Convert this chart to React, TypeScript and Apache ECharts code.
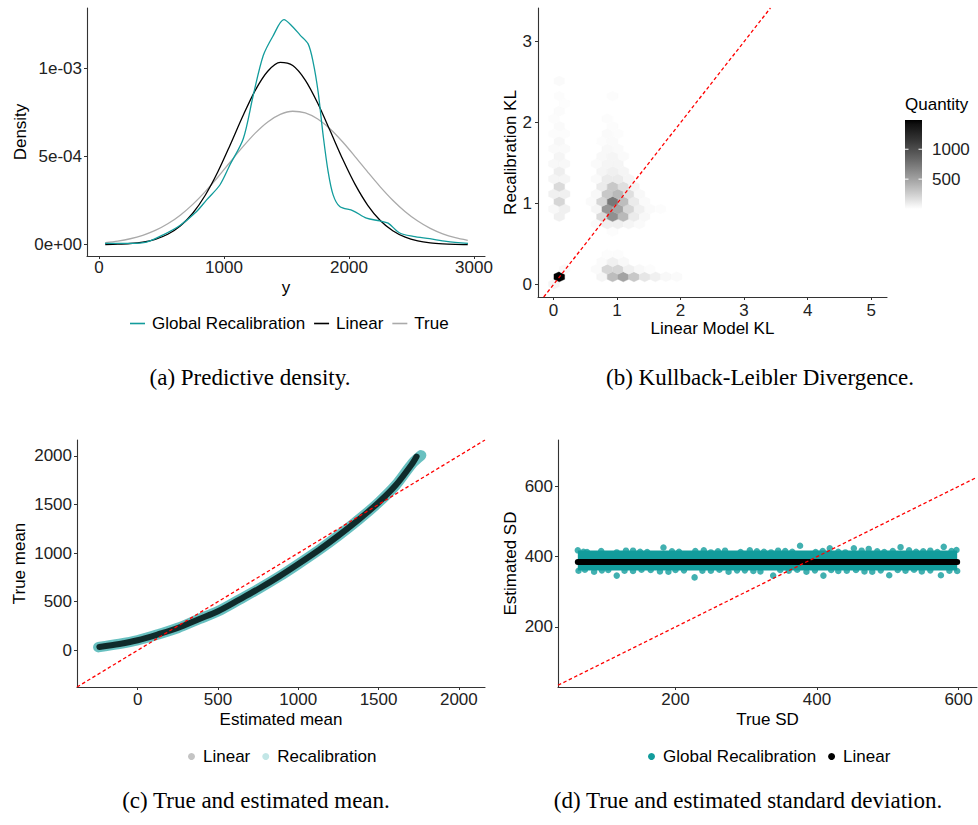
import React, { useEffect, useRef } from 'react';
import * as echarts from 'echarts';

// ---------- Panel (a): predictive density ----------
const densityGridX = [50, 150, 250, 350, 450, 550, 650, 750, 850, 950, 1050, 1150, 1250, 1350, 1450, 1550, 1650, 1750, 1850, 1950, 2050, 2150, 2250, 2350, 2450, 2550, 2650, 2750, 2850, 2950];
// densities in units of 1e-3
const densityTrue = [0.0122, 0.0206, 0.0337, 0.0531, 0.0806, 0.1183, 0.1673, 0.2284, 0.3007, 0.3818, 0.4683, 0.5534, 0.6315, 0.6948, 0.7376, 0.7556, 0.7467, 0.7119, 0.6548, 0.5811, 0.4975, 0.411, 0.3275, 0.2518, 0.1868, 0.1337, 0.0923, 0.0614, 0.0395, 0.0245];
const densityLinear = [0.0011, 0.0029, 0.0068, 0.0149, 0.0306, 0.0589, 0.1059, 0.1781, 0.2798, 0.4112, 0.5658, 0.7272, 0.874, 0.982, 1.032, 1.014, 0.9318, 0.8007, 0.6435, 0.4836, 0.3398, 0.2232, 0.1371, 0.0788, 0.0423, 0.0212, 0.01, 0.0044, 0.0018, 0.0007];
const recalX = [48, 248, 381, 514, 647, 781, 861, 967, 1047, 1154, 1234, 1314, 1394, 1479, 1553, 1607, 1673, 1713, 1753, 1793, 1833, 1873, 1926, 2033, 2140, 2246, 2313, 2406, 2513, 2646, 2779, 2952];
const recalDensity = [0.0075, 0.0075, 0.015, 0.056, 0.109, 0.188, 0.254, 0.338, 0.451, 0.6, 0.846, 1.071, 1.184, 1.274, 1.231, 1.188, 1.137, 1.034, 0.865, 0.62, 0.414, 0.282, 0.216, 0.192, 0.15, 0.135, 0.122, 0.066, 0.047, 0.034, 0.019, 0.0075];
const densityXTicks = [0, 1000, 2000, 3000];
const densityYTicks = [0, 5e-4, 1e-3];

// ---------- Panel (b): KL hexbin ----------
const hexCenterX = [
  0.006,
  0.09, 0.762, 0.93, 1.098, 1.266, 1.434, 1.602, 1.77, 1.938,
  0.174, 0.678, 0.846, 1.014, 1.182, 1.35, 1.518,
  0.762, 0.93, 1.098,
  0.846, 1.014,
  0.93,
  0.678, 0.846, 1.014, 1.182, 1.35,
  0.09, 0.762, 0.93, 1.098, 1.266, 1.434,
  0.006, 0.174, 0.678, 0.846, 1.014, 1.182, 1.35, 1.518, 1.686,
  0.09, 0.594, 0.762, 0.93, 1.098, 1.266, 1.434,
  0.006, 0.174, 0.678, 0.846, 1.014, 1.182, 1.35,
  0.09, 0.762, 0.93, 1.098, 1.266,
  0.006, 0.174, 0.678, 0.846, 1.014, 1.182,
  0.09, 0.762, 0.93, 1.098,
  0.006, 0.174, 0.678, 0.846, 1.014,
  0.09, 0.762, 0.93, 1.098,
  0.006, 0.174, 0.846, 1.014,
  0.09, 0.762, 0.93,
  0.006, 0.174, 0.846, 1.014,
  0.09, 0.93,
  0.006, 0.846,
  0.09,
  0.174,
  0.09, 0.93,
  0.09,
];
const hexCenterY = [
  0.002,
  0.095, 0.095, 0.095, 0.095, 0.095, 0.095, 0.095, 0.095, 0.095,
  0.188, 0.188, 0.188, 0.188, 0.188, 0.188, 0.188,
  0.281, 0.281, 0.281,
  0.374, 0.374,
  0.653,
  0.746, 0.746, 0.746, 0.746, 0.746,
  0.839, 0.839, 0.839, 0.839, 0.839, 0.839,
  0.932, 0.932, 0.932, 0.932, 0.932, 0.932, 0.932, 0.932, 0.932,
  1.025, 1.025, 1.025, 1.025, 1.025, 1.025, 1.025,
  1.118, 1.118, 1.118, 1.118, 1.118, 1.118, 1.118,
  1.211, 1.211, 1.211, 1.211, 1.211,
  1.304, 1.304, 1.304, 1.304, 1.304, 1.304,
  1.397, 1.397, 1.397, 1.397,
  1.49, 1.49, 1.49, 1.49, 1.49,
  1.583, 1.583, 1.583, 1.583,
  1.676, 1.676, 1.676, 1.676,
  1.769, 1.769, 1.769,
  1.862, 1.862, 1.862, 1.862,
  1.955, 1.955,
  2.048, 2.048,
  2.141,
  2.234,
  2.327, 2.327,
  2.513,
];
const hexCount = [
  50,
  1489, 52, 350, 490, 290, 130, 78, 37, 25,
  30, 25, 215, 215, 78, 37, 15,
  25, 78, 37,
  15, 15,
  15,
  25, 78, 78, 52, 25,
  78, 195, 600, 370, 105, 37,
  37, 78, 52, 560, 480, 215, 78, 25, 15,
  215, 25, 215, 740, 350, 105, 25,
  78, 78, 37, 290, 370, 165, 37,
  195, 105, 290, 165, 52,
  52, 52, 25, 105, 105, 52,
  90, 52, 78, 52,
  37, 37, 25, 52, 52,
  52, 37, 52, 25,
  25, 25, 37, 25,
  42, 15, 25,
  15, 15, 25, 15,
  25, 15,
  15, 15,
  20,
  12,
  15, 15,
  25,
];
const klXTicks = [0, 1, 2, 3, 4, 5];
const klYTicks = [0, 1, 2, 3];
const quantityTicks = [500, 1000];
const quantityLimits = [1, 1489];

// ---------- Panel (c): true vs estimated mean ----------
const meanEstimated = [-239, -114, 0, 135, 249, 384, 500, 633, 751, 882, 1000, 1131, 1249, 1380, 1500, 1608, 1712, 1737];
const meanTrue = [34, 65, 103, 168, 229, 322, 401, 521, 630, 760, 887, 1034, 1178, 1349, 1520, 1700, 1925, 1993];
const meanRecalEstimated = [-245, -114, 0, 135, 249, 384, 500, 633, 751, 882, 1000, 1131, 1249, 1380, 1500, 1608, 1712, 1765];
const meanRecalTrue = [32, 65, 103, 168, 229, 322, 401, 521, 630, 760, 887, 1034, 1178, 1349, 1520, 1700, 1925, 2005];
const meanTicks = [0, 500, 1000, 1500, 2000];

// ---------- Panel (d): true vs estimated SD ----------
const sdTrueRange = [62, 598];
const sdLinearEstimated = [385, 385];
const sdRecalCentre = [389, 389];
const sdRecalEdgeTrue = [62, 70, 75, 95, 117, 130, 140, 150, 160, 183, 195, 205, 228, 240, 250, 260, 270, 292, 305, 315, 325, 335, 345, 355, 365, 376, 398, 408, 418, 430, 440, 452, 463, 473, 485, 495, 507, 518, 530, 540, 550, 560, 570, 579, 590, 597,
  63, 72, 85, 96, 105, 117, 128, 140, 152, 165, 178, 190, 200, 212, 227, 238, 250, 262, 275, 287, 298, 310, 320, 338, 348, 360, 372, 385, 397, 409, 420, 430, 442, 455, 467, 478, 490, 502, 514, 525, 537, 548, 560, 575, 587, 598];
const sdRecalEdgeEstimated = [418, 414, 413, 416, 412, 417, 417, 414, 413, 426, 415, 414, 416, 418, 412, 415, 417, 413, 418, 415, 414, 412, 417, 416, 414, 431, 413, 416, 424, 414, 412, 424, 417, 422, 415, 413, 416, 427, 418, 414, 415, 417, 413, 428, 416, 419,
  360, 363, 357, 361, 362, 346, 360, 359, 363, 362, 358, 357, 362, 361, 341, 360, 360, 363, 357, 361, 361, 359, 358, 346, 362, 360, 363, 357, 361, 346, 362, 359, 360, 362, 358, 357, 361, 347, 362, 360, 363, 358, 361, 347, 360, 359];
const sdXTicks = [200, 400, 600];
const sdYTicks = [200, 400, 600];

// ---------- helpers ----------
const FONT = '"Liberation Sans", Arial, sans-serif';
const TEAL = '#129c9c';

function labGrey(t: number): string {
  const tt = Math.max(0, Math.min(1, t));
  const L = 100 * (1 - tt);
  const fy = (L + 16) / 116;
  const Y = L > 8 ? fy * fy * fy : L / 903.3;
  const c = Y <= 0.0031308 ? 12.92 * Y : 1.055 * Math.pow(Y, 1 / 2.4) - 0.055;
  const g = Math.round(Math.max(0, Math.min(1, c)) * 255);
  return `rgb(${g},${g},${g})`;
}
function countColor(n: number): string {
  return labGrey((n - quantityLimits[0]) / (quantityLimits[1] - quantityLimits[0]));
}
function sciLabel(v: number): string {
  if (v === 0) return '0e+00';
  const e = Math.floor(Math.log10(Math.abs(v)) + 1e-9);
  const m = Math.round(v / Math.pow(10, e));
  const sign = e < 0 ? '-' : '+';
  const ae = Math.abs(e);
  return `${m}e${sign}${ae < 10 ? '0' : ''}${ae}`;
}

function makeAxis(gridIndex: number, min: number, max: number, ticks: number[], name: string, nameGap: number, margin: number, formatter?: (v: number) => string) {
  return {
    type: 'value',
    gridIndex,
    min,
    max,
    name,
    nameLocation: 'middle',
    nameGap,
    nameTextStyle: { fontSize: 17, color: '#000', fontFamily: FONT },
    axisLine: { show: true, onZero: false, lineStyle: { color: '#333', width: 1.1 } },
    axisTick: { show: true, length: 3, customValues: ticks, lineStyle: { color: '#333', width: 1 } },
    axisLabel: { show: true, customValues: ticks, margin, fontSize: 17, color: '#222', fontFamily: FONT, formatter: formatter || ((v: number) => String(v)) },
    splitLine: { show: false },
  };
}

export default function App() {
  const ref = useRef<HTMLDivElement>(null);
  useEffect(() => {
    if (!ref.current) return;
    const chart = echarts.init(ref.current, undefined, { renderer: 'svg' });

    const klXLim = [-0.245, 5.25];
    const klYLim = [-0.155, 3.415];
    const meanLim = [-378, 2163];
    const sdXLim = [34, 626];
    const sdYLim = [29, 732];

    const hexData = hexCenterX.map((x, i) => [x, hexCenterY[i], hexCount[i]]);

    // colour bar
    const barX = 905, barY = 120, barW = 17, barH = 89;
    const stops = [];
    for (let k = 0; k <= 20; k++) {
      const off = k / 20;
      stops.push({ offset: off, color: labGrey(1 - off) });
    }
    const valToBarY = (v: number) => barY + barH - ((v - quantityLimits[0]) / (quantityLimits[1] - quantityLimits[0])) * barH;
    const barElems: any[] = [
      { type: 'rect', shape: { x: barX, y: barY, width: barW, height: barH }, style: { fill: new echarts.graphic.LinearGradient(0, 0, 0, 1, stops) } },
      { type: 'text', x: barX, y: 104, style: { text: 'Quantity', font: `17px ${FONT}`, fill: '#000', verticalAlign: 'middle', align: 'left' } },
    ];
    quantityTicks.forEach((q) => {
      const yy = valToBarY(q);
      barElems.push({ type: 'line', shape: { x1: barX, y1: yy, x2: barX + 3.5, y2: yy }, style: { stroke: '#fff', lineWidth: 1 } });
      barElems.push({ type: 'line', shape: { x1: barX + barW - 3.5, y1: yy, x2: barX + barW, y2: yy }, style: { stroke: '#fff', lineWidth: 1 } });
      barElems.push({ type: 'text', x: 932, y: yy, style: { text: String(q), font: `17px ${FONT}`, fill: '#222', verticalAlign: 'middle', align: 'left' } });
    });

    const captionFont = `23px "Liberation Serif", "Times New Roman", serif`;
    const captions = [
      { text: '(a) Predictive density.', x: 250, y: 377 },
      { text: '(b) Kullback-Leibler Divergence.', x: 760, y: 377 },
      { text: '(c) True and estimated mean.', x: 256, y: 800 },
      { text: '(d) True and estimated standard deviation.', x: 748, y: 800 },
    ].map((c) => ({ type: 'text', x: c.x, y: c.y, style: { text: c.text, font: captionFont, fill: '#000', align: 'center', verticalAlign: 'middle' } }));

    const legendText = { fontSize: 17, color: '#000', fontFamily: FONT, padding: [0, 0, 0, 2] };

    const option: any = {
      animation: false,
      backgroundColor: '#fff',
      grid: [
        { left: 87, top: 8, width: 398, height: 248 },
        { left: 538, top: 8, width: 349, height: 289 },
        { left: 77, top: 440, width: 408, height: 247 },
        { left: 558, top: 440, width: 419, height: 247 },
      ],
      xAxis: [
        makeAxis(0, -96, 3088, densityXTicks, 'y', 23, 3),
        makeAxis(1, klXLim[0], klXLim[1], klXTicks, 'Linear Model KL', 23, 5),
        makeAxis(2, meanLim[0], meanLim[1], meanTicks, 'Estimated mean', 23.5, 3.7),
        makeAxis(3, sdXLim[0], sdXLim[1], sdXTicks, 'True SD', 23.5, 3.7),
      ],
      yAxis: [
        makeAxis(0, -6.4e-5, 1.34e-3, densityYTicks, 'Density', 58, 5, sciLabel),
        makeAxis(1, klYLim[0], klYLim[1], klYTicks, 'Recalibration KL', 19.5, 6),
        makeAxis(2, meanLim[0], meanLim[1], meanTicks, 'True mean', 49, 5),
        makeAxis(3, sdYLim[0], sdYLim[1], sdYTicks, 'Estimated SD', 39, 5),
      ],
      legend: [
        {
          left: 125, top: 310, itemWidth: 15, itemHeight: 1.6, itemGap: 9, textStyle: legendText,
          data: [
            { name: 'Global Recalibration', icon: 'rect', itemStyle: { color: TEAL } },
            { name: 'Linear', icon: 'rect', itemStyle: { color: '#000' } },
            { name: 'True', icon: 'rect', itemStyle: { color: '#aaaaaa' } },
          ],
          selectedMode: false,
        },
        {
          left: 183, top: 743, itemWidth: 7, itemHeight: 7, itemGap: 12, textStyle: { ...legendText, padding: [0, 0, 0, 3] },
          data: [
            { name: 'Linear', icon: 'circle', itemStyle: { color: '#c4c4c4' } },
            { name: 'Recalibration', icon: 'circle', itemStyle: { color: '#c2e6e6' } },
          ],
          selectedMode: false,
        },
        {
          left: 643, top: 743, itemWidth: 7, itemHeight: 7, itemGap: 12, textStyle: { ...legendText, padding: [0, 0, 0, 3] },
          data: [
            { name: 'Global Recalibration', icon: 'circle', itemStyle: { color: TEAL } },
            { name: 'Linear', icon: 'circle', itemStyle: { color: '#000' } },
          ],
          selectedMode: false,
        },
      ],
      series: [
        // (a)
        {
          name: 'True', type: 'line', xAxisIndex: 0, yAxisIndex: 0, smooth: 0.3, showSymbol: false,
          data: densityGridX.map((x, i) => [x, densityTrue[i] * 1e-3]),
          lineStyle: { color: '#aaaaaa', width: 1.3 },
        },
        {
          name: 'Linear', type: 'line', xAxisIndex: 0, yAxisIndex: 0, smooth: 0.3, showSymbol: false,
          data: densityGridX.map((x, i) => [x, densityLinear[i] * 1e-3]),
          lineStyle: { color: '#000', width: 1.3 },
        },
        {
          name: 'Global Recalibration', type: 'line', xAxisIndex: 0, yAxisIndex: 0, smooth: 0.3, showSymbol: false,
          data: recalX.map((x, i) => [x, recalDensity[i] * 1e-3]),
          lineStyle: { color: TEAL, width: 1.3 },
        },
        // (b)
        {
          name: 'hex', type: 'custom', xAxisIndex: 1, yAxisIndex: 1,
          data: hexData,
          renderItem: (params: any, api: any) => {
            const c = api.coord([api.value(0), api.value(1)]);
            const hw = api.size([0.084, 0])[0];
            const r = api.size([0, 0.062])[1];
            const col = countColor(api.value(2));
            return {
              type: 'polygon',
              shape: { points: [[c[0], c[1] - r], [c[0] + hw, c[1] - r / 2], [c[0] + hw, c[1] + r / 2], [c[0], c[1] + r], [c[0] - hw, c[1] + r / 2], [c[0] - hw, c[1] - r / 2]] },
              style: { fill: col, stroke: col, lineWidth: 0.4 },
            };
          },
        },
        {
          name: 'diag-b', type: 'line', xAxisIndex: 1, yAxisIndex: 1, showSymbol: false,
          data: [[klYLim[0], klYLim[0]], [klYLim[1], klYLim[1]]],
          lineStyle: { color: '#ff0000', width: 1.3, type: [3.5, 2.5] },
        },
        // (c)
        {
          name: 'Recalibration', type: 'line', xAxisIndex: 2, yAxisIndex: 2, smooth: 0.3, showSymbol: false,
          data: meanRecalEstimated.map((x, i) => [x, meanRecalTrue[i]]),
          lineStyle: { color: 'rgba(40,165,165,0.7)', width: 10.5, cap: 'round' },
        },
        {
          name: 'Linear', type: 'line', xAxisIndex: 2, yAxisIndex: 2, smooth: 0.3, showSymbol: false,
          data: meanEstimated.map((x, i) => [x, meanTrue[i]]),
          lineStyle: { color: '#0f2b2b', width: 6, cap: 'round' },
        },
        {
          name: 'diag-c', type: 'line', xAxisIndex: 2, yAxisIndex: 2, showSymbol: false,
          data: [[meanLim[0], meanLim[0]], [meanLim[1], meanLim[1]]],
          lineStyle: { color: '#ff0000', width: 1.3, type: [3.5, 2.5] },
        },
        // (d)
        {
          name: 'Global Recalibration', type: 'line', xAxisIndex: 3, yAxisIndex: 3, showSymbol: false,
          data: sdTrueRange.map((x, i) => [x, sdRecalCentre[i]]),
          lineStyle: { color: TEAL, width: 20, cap: 'butt' },
        },
        {
          name: 'Global Recalibration', type: 'scatter', xAxisIndex: 3, yAxisIndex: 3, symbolSize: 6.5,
          data: sdRecalEdgeTrue.map((x, i) => [x, sdRecalEdgeEstimated[i]]),
          itemStyle: { color: TEAL },
        },
        {
          name: 'Linear', type: 'line', xAxisIndex: 3, yAxisIndex: 3, showSymbol: false,
          data: sdTrueRange.map((x, i) => [x, sdLinearEstimated[i]]),
          lineStyle: { color: '#000', width: 6, cap: 'round' },
        },
        {
          name: 'diag-d', type: 'line', xAxisIndex: 3, yAxisIndex: 3, showSymbol: false,
          data: [[sdXLim[0], sdXLim[0]], [sdXLim[1], sdXLim[1]]],
          lineStyle: { color: '#ff0000', width: 1.3, type: [3.5, 2.5] },
        },
      ],
      graphic: [...barElems, ...captions],
    };
    chart.setOption(option);
    return () => chart.dispose();
  }, []);
  return <div ref={ref} style={{ position: 'absolute', left: 0, top: 0, width: 978, height: 825 }} />;
}
